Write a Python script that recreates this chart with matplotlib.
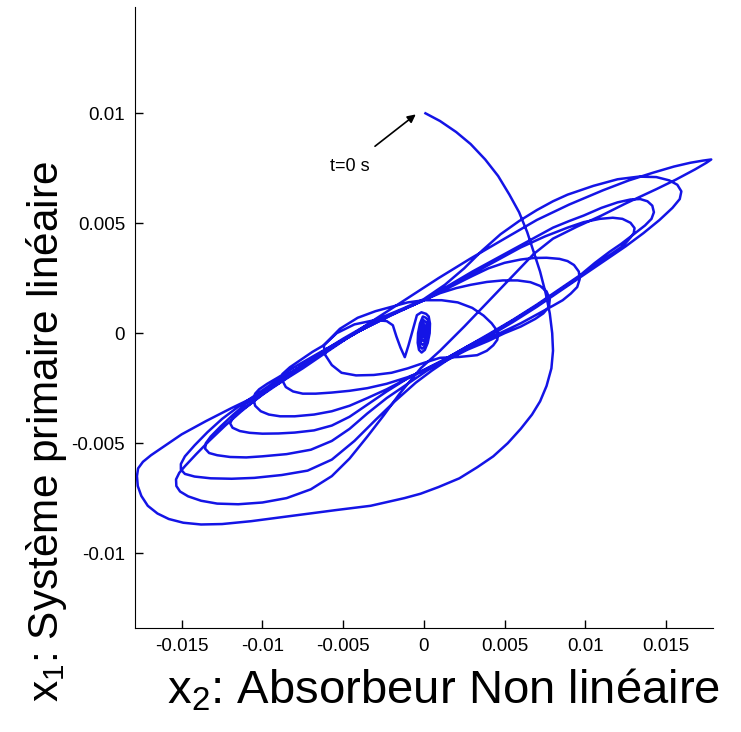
import numpy as np
import matplotlib
matplotlib.use('Agg')
import matplotlib.pyplot as plt

# trajectoire x2 (absorbeur) / x1 (primaire), valeurs en 1e-3 lues sur la figure
# départ t=0 puis grande boucle A
seg0_x2 = [0.1, 1.0, 2.0, 2.9, 3.8, 4.6, 5.3, 5.9, 6.4, 6.8, 7.2, 7.55, 7.8, 7.95, 8.0, 7.9, 7.6, 7.2,
           6.7, 6.0, 5.2, 4.3, 3.3, 2.2, 0.9, -0.2, -1.2, -3.3, -5.5, -7.6, -10.7, -12.5, -13.8,
           -14.9, -15.8, -16.5, -17.1, -17.5, -17.72, -17.77]
seg0_x1 = [10.0, 9.65, 9.15, 8.6, 7.9, 7.15, 6.3, 5.5, 4.6, 3.7, 2.8, 1.8, 0.9, 0.0, -0.8, -1.6, -2.4, -3.1,
           -3.7, -4.35, -5.0, -5.6, -6.1, -6.6, -7.0, -7.3, -7.5, -7.85, -8.05, -8.25, -8.55, -8.68, -8.7,
           -8.62, -8.45, -8.2, -7.85, -7.4, -6.95, -6.5]
# côté haut de A vers la pointe R1
seg1_x2 = [-17.7, -17.4, -16.9, -16.2, -15.0, -13.5, -11.9, -10.2, -8.8, -7.5, -6.0, -4.5, -3.3, -1.2,
           0.9, 2.9, 5.0, 7.0, 9.0, 11.1, 12.7, 14.2, 15.5, 16.5, 17.3, 17.8]
seg1_x1 = [-6.15, -5.85, -5.55, -5.2, -4.6, -4.0, -3.4, -2.8, -2.2, -1.6, -0.85, -0.1, 0.5, 1.5,
           2.5, 3.4, 4.3, 5.15, 5.85, 6.5, 6.95, 7.3, 7.58, 7.75, 7.85, 7.9]
# retour R1 -> boucle B
seg2_x2 = [17.5, 16.8, 15.6, 14.4, 12.5, 11.0, 9.5, 8.0, 6.8, 5.5, 4.0, 2.5, 1.0, -0.2, -1.5, -2.5,
           -3.5, -4.6, -5.7, -7.0, -8.5, -10.0, -11.5, -12.8, -13.8, -14.6, -15.1, -15.33]
seg2_x1 = [7.75, 7.45, 6.98, 6.55, 5.9, 5.35, 4.85, 4.3, 3.6, 2.6, 1.45, 0.3, -0.8, -1.6, -2.75, -3.75,
           -4.7, -5.7, -6.5, -7.1, -7.5, -7.7, -7.78, -7.75, -7.62, -7.42, -7.2, -6.95]
# B haut -> R2
seg3_x2 = [-15.35, -15.15, -14.8, -14.1, -13.3, -12.3, -11.3, -10.3, -9.4, -8.4, -7.5, -6.2, -5.0,
           -3.7, -2.5, -1.2, 0.0, 1.3, 2.5, 3.6, 4.75, 5.9, 7.0, 8.0, 8.9, 10.5, 12.0, 13.3, 14.4,
           15.2, 15.7, 15.95, 15.85, 15.4, 14.6, 13.6]
seg3_x1 = [-6.65, -6.35, -6.05, -5.5, -4.9, -4.2, -3.55, -2.95, -2.45, -1.9, -1.45, -0.8, -0.25,
           0.3, 0.75, 1.15, 1.55, 2.2, 2.95, 3.75, 4.5, 5.1, 5.6, 6.0, 6.3, 6.7, 7.0, 7.12, 7.1,
           6.95, 6.75, 6.45, 6.1, 5.7, 5.15, 4.55]
# R2 bas -> C
seg4_x2 = [12.5, 11.5, 10.5, 9.7, 8.3, 7.0, 5.5, 4.0, 2.7, 1.5, 0.5, -0.5, -1.8, -3.0, -4.3, -5.7,
           -7.2, -8.8, -10.5, -11.9, -13.2, -14.2, -14.8, -15.05]
seg4_x1 = [3.95, 3.45, 2.95, 2.55, 1.85, 1.2, 0.5, -0.15, -0.7, -1.2, -1.7, -2.25, -3.1, -3.95, -4.9,
           -5.75, -6.25, -6.45, -6.58, -6.62, -6.6, -6.52, -6.4, -6.2]
# C haut -> R3
seg5_x2 = [-15.05, -14.8, -14.2, -13.4, -12.5, -11.5, -10.5, -9.5, -8.5, -7.2, -6.0, -4.7, -3.5,
           -1.7, 0.0, 1.5, 3.0, 4.5, 6.0, 7.0, 8.0, 9.0, 9.9, 11.0, 12.0, 12.8, 13.4, 13.85, 14.15,
           14.25, 14.1, 13.7, 13.0]
seg5_x1 = [-5.95, -5.6, -5.1, -4.5, -3.9, -3.35, -2.85, -2.35, -1.9, -1.35, -0.8, -0.2, 0.3,
           0.95, 1.5, 2.15, 2.8, 3.4, 4.0, 4.4, 4.8, 5.1, 5.35, 5.7, 5.95, 6.08, 6.1, 6.0, 5.8,
           5.5, 5.2, 4.9, 4.5]
# R3 bas -> D
seg6_x2 = [12.2, 11.5, 10.6, 9.7, 8.3, 7.0, 5.5, 4.0, 2.7, 1.5, 0.2, -1.0, -2.3, -3.5, -4.6, -5.7,
           -7.0, -8.5, -10.0, -11.0, -12.0, -12.8, -13.3, -13.55]
seg6_x1 = [4.05, 3.7, 3.2, 2.65, 1.95, 1.3, 0.6, -0.05, -0.6, -1.1, -1.7, -2.3, -2.95, -3.65, -4.35,
           -4.9, -5.3, -5.5, -5.6, -5.65, -5.63, -5.55, -5.45, -5.25]
# D haut -> R4
seg7_x2 = [-13.5, -13.2, -12.6, -11.8, -11.0, -10.0, -9.0, -7.8, -6.5, -5.2, -4.0, -2.0, 0.0, 1.5,
           3.0, 4.5, 6.0, 7.5, 8.9, 9.9, 10.9, 11.7, 12.3, 12.8, 13.05, 13.0, 12.8, 12.5, 12.2]
seg7_x1 = [-5.0, -4.7, -4.25, -3.7, -3.2, -2.7, -2.2, -1.6, -1.0, -0.42, 0.1, 0.85, 1.5, 2.1,
           2.7, 3.3, 3.9, 4.4, 4.8, 5.05, 5.2, 5.25, 5.2, 5.02, 4.78, 4.55, 4.35, 4.1, 3.9]
# R4 bas -> E
seg8_x2 = [11.3, 10.5, 9.5, 8.5, 7.2, 6.0, 5.0, 4.0, 2.7, 1.5, 0.2, -1.0, -2.3, -3.5, -4.6, -5.7,
           -6.8, -8.0, -9.0, -10.0, -10.8, -11.4, -11.85]
seg8_x1 = [3.45, 3.05, 2.5, 2.0, 1.35, 0.8, 0.35, -0.1, -0.6, -1.1, -1.6, -2.05, -2.65, -3.25, -3.8,
           -4.2, -4.42, -4.52, -4.56, -4.57, -4.53, -4.45, -4.3]
# E haut -> R5
seg9_x2 = [-12.0, -11.8, -11.3, -10.8, -10.0, -9.0, -7.8, -6.5, -5.2, -4.0, -2.0, 0.0, 1.5, 3.0,
           4.0, 5.0, 6.0, 6.8, 7.6, 8.4, 8.9, 9.3, 9.6, 9.65, 9.5]
seg9_x1 = [-4.1, -3.8, -3.5, -3.25, -2.8, -2.3, -1.65, -1.0, -0.42, 0.1, 0.85, 1.5, 2.05, 2.6,
           2.95, 3.2, 3.35, 3.42, 3.43, 3.38, 3.28, 3.1, 2.8, 2.45, 2.1]
# R5 bas -> F
seg10_x2 = [9.1, 8.6, 8.0, 7.0, 6.0, 5.0, 4.0, 2.7, 1.5, 0.2, -1.0, -2.3, -3.5, -4.6, -5.7, -6.8,
            -8.0, -8.9, -9.6, -10.1, -10.45, -10.55]
seg10_x1 = [1.8, 1.5, 1.25, 0.85, 0.45, 0.1, -0.25, -0.7, -1.15, -1.6, -2.05, -2.55, -2.95, -3.3,
            -3.55, -3.7, -3.78, -3.78, -3.7, -3.55, -3.3, -3.0]
# F haut -> R6
seg11_x2 = [-10.45, -10.2, -9.7, -9.0, -7.8, -6.5, -5.2, -4.0, -2.0, 0.0, 1.0, 2.0, 2.9, 3.9, 4.9,
            5.8, 6.6, 7.2, 7.6, 7.8, 7.75, 7.4]
seg11_x1 = [-2.75, -2.55, -2.3, -2.0, -1.45, -0.9, -0.38, 0.1, 0.82, 1.5, 1.82, 2.05, 2.2, 2.33, 2.4,
            2.4, 2.32, 2.15, 1.9, 1.55, 1.2, 0.9]
# R6 bas -> G
seg12_x2 = [6.9, 6.0, 5.0, 4.0, 2.7, 1.5, 0.2, -1.0, -2.3, -3.5, -4.6, -5.7, -6.7, -7.5, -8.1,
            -8.55, -8.8]
seg12_x1 = [0.65, 0.3, 0.0, -0.35, -0.75, -1.2, -1.65, -2.0, -2.3, -2.5, -2.62, -2.7, -2.75, -2.75,
            -2.65, -2.45, -2.1]
# G haut -> boucle centrale
seg13_x2 = [-8.75, -8.3, -7.6, -6.9, -6.2, -5.2, -4.1, -3.0, -2.0, -1.0, 0.0, 1.1, 2.1, 3.0, 3.7,
            4.2, 4.6, 4.55, 4.3, 3.9, 3.3, 2.2, 1.0, 0.0, -1.0, -2.0, -3.1, -4.2, -5.1, -5.7,
            -6.1, -6.2]
seg13_x1 = [-1.85, -1.55, -1.2, -0.85, -0.55, 0.2, 0.7, 1.0, 1.2, 1.4, 1.5, 1.5, 1.4, 1.15, 0.8,
            0.45, 0.05, -0.3, -0.55, -0.8, -1.0, -1.08, -1.12, -1.35, -1.6, -1.8, -1.9, -1.92,
            -1.8, -1.45, -1.0, -0.55]
# fin: V puis petite ellipse pleine autour de l'origine
seg14_x2 = [-5.4, -4.3, -3.0, -2.3, -1.92, -1.7, -1.45, -1.18, -0.95, -0.7, -0.43, -0.15,
            0.14, 0.30, 0.38, 0.36, 0.24, 0.06, -0.14, -0.30, -0.38, -0.36, -0.24, -0.06,
            0.112, 0.241, 0.306, 0.288, 0.194, 0.047, -0.112, -0.241, -0.306, -0.288, -0.194, -0.047,
            0.084, 0.181, 0.229, 0.216, 0.145, 0.035, -0.084, -0.181, -0.229, -0.216, -0.145, -0.035,
            0.056, 0.12, 0.153, 0.144, 0.097, 0.024, -0.056, -0.12, -0.153, -0.144, -0.097, -0.024,
            0.028, 0.06, 0.076, 0.072, 0.048, 0.012, -0.028, -0.06, -0.076, -0.072, -0.048, -0.012]
seg14_x1 = [0.0, 0.4, 0.6, 0.55, 0.36, -0.15, -0.65, -1.09, -0.55, 0.1, 0.82, 0.95,
            0.88, 0.76, 0.44, 0.0, -0.44, -0.76, -0.88, -0.76, -0.44, 0.0, 0.44, 0.76,
            0.704, 0.608, 0.352, 0.0, -0.352, -0.608, -0.704, -0.608, -0.352, 0.0, 0.352, 0.608,
            0.528, 0.456, 0.264, 0.0, -0.264, -0.456, -0.528, -0.456, -0.264, 0.0, 0.264, 0.456,
            0.352, 0.304, 0.176, 0.0, -0.176, -0.304, -0.352, -0.304, -0.176, 0.0, 0.176, 0.304,
            0.176, 0.152, 0.088, 0.0, -0.088, -0.152, -0.176, -0.152, -0.088, 0.0, 0.088, 0.152]

x_ticks = [-0.015, -0.01, -0.005, 0, 0.005, 0.01, 0.015]
x_tick_labels = ['-0.015', '-0.01', '-0.005', '0', '0.005', '0.01', '0.015']
y_ticks = [-0.01, -0.005, 0, 0.005, 0.01]
y_tick_labels = ['-0.01', '-0.005', '0', '0.005', '0.01']

all_x2 = [seg0_x2, seg1_x2, seg2_x2, seg3_x2, seg4_x2, seg5_x2, seg6_x2, seg7_x2,
          seg8_x2, seg9_x2, seg10_x2, seg11_x2, seg12_x2, seg13_x2, seg14_x2]
all_x1 = [seg0_x1, seg1_x1, seg2_x1, seg3_x1, seg4_x1, seg5_x1, seg6_x1, seg7_x1,
          seg8_x1, seg9_x1, seg10_x1, seg11_x1, seg12_x1, seg13_x1, seg14_x1]
x2 = np.concatenate(all_x2) * 1e-3
x1 = np.concatenate(all_x1) * 1e-3

plt.rcParams['font.family'] = ['Liberation Sans', 'DejaVu Sans']
plt.rcParams['mathtext.fontset'] = 'custom'
plt.rcParams['mathtext.rm'] = 'Liberation Sans'
plt.rcParams['mathtext.it'] = 'Liberation Sans'

fig = plt.figure(figsize=(7.41, 7.32), dpi=100)
ax = fig.add_axes([0.182, 0.142, 0.780, 0.848])

ax.plot(x2, x1, color='#1414e6', lw=1.8, solid_joinstyle='round')

ax.set_xlim(-0.0179, 0.0179)
ax.set_ylim(-0.01341, 0.01482)
ax.set_xticks(x_ticks)
ax.set_xticklabels(x_tick_labels)
ax.set_yticks(y_ticks)
ax.set_yticklabels(y_tick_labels)
ax.tick_params(direction='in', length=6, width=1, labelsize=13.5, pad=7)
ax.spines['top'].set_visible(False)
ax.spines['right'].set_visible(False)

ax.annotate('t=0 s', xy=(-0.0005, 0.00995), xytext=(-0.0046, 0.0076),
            fontsize=13, ha='center', va='center',
            arrowprops=dict(arrowstyle='-|>', color='black', lw=1.2,
                            shrinkA=10, shrinkB=0, mutation_scale=12))

fig.text(444 / 741, 1 - 690 / 732, 'x$_2$: Absorbeur Non linéaire',
         fontsize=34, ha='center', va='center')
fig.text(47 / 741, 1 - 432 / 732, 'x$_1$: Système primaire linéaire',
         fontsize=30.5, ha='center', va='center', rotation=90)

fig.savefig('out.png', dpi=100)
